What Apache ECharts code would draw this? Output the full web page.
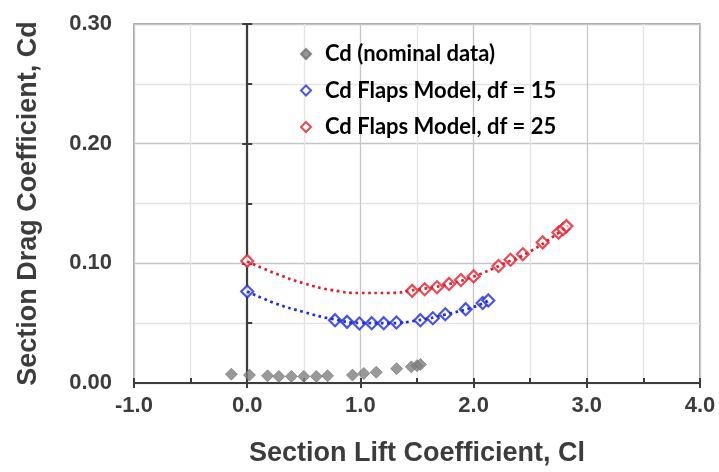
<!DOCTYPE html>
<html><head><meta charset="utf-8">
<script src="https://cdn.jsdelivr.net/npm/echarts@6/dist/echarts.min.js"></script>
<style>html,body{margin:0;padding:0;background:#fff}#c{width:719px;height:472px}</style>
</head><body><div id="c"></div>
<script>
// Nominal data (Cl, Cd)
const nominalCl = [-0.14, 0.02, 0.18, 0.28, 0.39, 0.50, 0.61, 0.71, 0.93, 1.03, 1.14, 1.32, 1.45, 1.50, 1.53];
const nominalCd = [0.0074, 0.0066, 0.0060, 0.0055, 0.0055, 0.0055, 0.0055, 0.0060, 0.0066, 0.0080, 0.0090, 0.0120, 0.0135, 0.0145, 0.0155];
// Flaps model df = 15
const flaps15Cl = [0.0, 0.776, 0.882, 0.991, 1.10, 1.206, 1.318, 1.53, 1.64, 1.75, 1.93, 2.08, 2.13];
const flaps15Cd = [0.0765, 0.0525, 0.0511, 0.0497, 0.0500, 0.0500, 0.0505, 0.0525, 0.0541, 0.0574, 0.0617, 0.0668, 0.0690];
// Flaps model df = 25
const flaps25Cl = [0.0, 1.457, 1.568, 1.677, 1.783, 1.888, 2.0, 2.22, 2.326, 2.435, 2.61, 2.75, 2.79, 2.82];
const flaps25Cd = [0.1019, 0.0770, 0.0784, 0.0800, 0.0828, 0.0861, 0.0891, 0.0978, 0.1030, 0.1076, 0.1175, 0.1257, 0.1285, 0.1311];
// Trendlines
const trend15Cl = [0.0, 0.25, 0.5, 0.75, 1.0, 1.25, 1.5, 1.75, 2.0, 2.14];
const trend15Cd = [0.0765, 0.0665, 0.0593, 0.0535, 0.0502, 0.0500, 0.0522, 0.0572, 0.0635, 0.0692];
const trend25Cl = [0.0, 0.25, 0.5, 0.75, 1.0, 1.25, 1.5, 1.75, 2.0, 2.25, 2.5, 2.75, 2.83];
const trend25Cd = [0.1015, 0.0915, 0.0833, 0.0776, 0.0752, 0.0752, 0.0780, 0.0820, 0.0890, 0.0990, 0.1100, 0.1255, 0.1315];
// Axis ticks
const xTicks = {min: -1, max: 4, step: 1, minor: 0.5};
const yTicks = {min: 0, max: 0.3, step: 0.1, minor: 0.05};

const zip = (a, b) => a.map((v, i) => [v, b[i]]);
const BLUE = '#1f2bdc', RED = '#e0212c', GRAY = '#7f7f7f', AX = '#3c3c3c';
const tickFont = {fontFamily: 'Liberation Sans, Arial, sans-serif', fontWeight: 'bold', fontSize: 22, color: AX};

const chart = echarts.init(document.getElementById('c'), null, {renderer: 'canvas'});
chart.setOption({
  animation: false,
  grid: {left: 134, right: 19, top: 24, bottom: 82, show: true, borderColor: '#8c8c8c', borderWidth: 1.5, backgroundColor: 'transparent'},
  legend: {
    orient: 'vertical', left: 295, top: 37, itemWidth: 10, itemHeight: 10, itemGap: 12.5,
    data: ['Cd (nominal data)', 'Cd Flaps Model, df = 15', 'Cd Flaps Model, df = 25'],
    textStyle: {fontFamily: 'Lato, Open Sans, sans-serif', fontWeight: 'bold', fontSize: 22, color: '#000', lineHeight: 24, padding: [0, 0, 0, 9]}
  },
  xAxis: [{
    type: 'value', min: xTicks.min, max: xTicks.max, interval: xTicks.step,
    axisLine: {show: true, onZero: true, lineStyle: {color: AX, width: 2.2}},
    axisTick: {show: true, inside: false, length: 5, lineStyle: {color: AX, width: 2}},
    axisLabel: Object.assign({margin: 12, formatter: v => v.toFixed(1)}, tickFont),
    splitLine: {show: true, lineStyle: {color: '#c6c6c6', width: 1.3}},
    minorTick: {show: false, splitNumber: 2},
    minorSplitLine: {show: true, lineStyle: {color: '#e4e4e4', width: 1.3}},
    name: 'Section Lift Coefficient, Cl', nameLocation: 'middle', nameGap: 57,
    nameTextStyle: {fontFamily: 'Liberation Sans, Arial, sans-serif', fontWeight: 'bold', fontSize: 27, color: AX}
  }, {
    type: 'value', min: xTicks.min, max: xTicks.max, interval: xTicks.minor, position: 'bottom',
    axisLine: {show: false, onZero: false},
    axisTick: {show: true, inside: true, length: 5, lineStyle: {color: AX, width: 2}},
    axisLabel: {show: false}, splitLine: {show: false}
  }],
  yAxis: [{
    type: 'value', min: yTicks.min, max: yTicks.max, interval: yTicks.step,
    axisLine: {show: false, onZero: false},
    axisTick: {show: false},
    axisLabel: Object.assign({margin: 22, formatter: v => v.toFixed(2)}, tickFont),
    splitLine: {show: true, lineStyle: {color: '#c6c6c6', width: 1.3}},
    minorTick: {show: false, splitNumber: 2},
    minorSplitLine: {show: true, lineStyle: {color: '#e4e4e4', width: 1.3}},
    name: 'Section Drag Coefficient, Cd', nameLocation: 'middle', nameGap: 92,
    nameTextStyle: {fontFamily: 'Liberation Sans, Arial, sans-serif', fontWeight: 'bold', fontSize: 27, color: AX}
  }, {
    type: 'value', min: yTicks.min, max: yTicks.max, interval: yTicks.step, position: 'left',
    axisLine: {show: true, onZero: true, onZeroAxisIndex: 0, lineStyle: {color: AX, width: 2.2}},
    axisTick: {show: true, inside: false, length: 5, lineStyle: {color: AX, width: 2}},
    axisLabel: {show: false}, splitLine: {show: false}
  }, {
    type: 'value', min: yTicks.min, max: yTicks.max, interval: yTicks.minor, position: 'left',
    axisLine: {show: false, onZero: true, onZeroAxisIndex: 0},
    axisTick: {show: true, inside: true, length: 5, lineStyle: {color: AX, width: 2}},
    axisLabel: {show: false}, splitLine: {show: false}
  }],
  series: [
    {name: 'trend15', type: 'line', xAxisIndex: 0, yAxisIndex: 0, data: zip(trend15Cl, trend15Cd), smooth: 0.5, showSymbol: false, silent: true,
     lineStyle: {color: BLUE, width: 2.7, type: [2.7, 3.6], cap: 'butt'}},
    {name: 'trend25', type: 'line', xAxisIndex: 0, yAxisIndex: 0, data: zip(trend25Cl, trend25Cd), smooth: 0.5, showSymbol: false, silent: true,
     lineStyle: {color: RED, width: 2.7, type: [2.7, 3.6], cap: 'butt'}},
    {name: 'Cd (nominal data)', type: 'scatter', xAxisIndex: 0, yAxisIndex: 0, data: zip(nominalCl, nominalCd), symbol: 'diamond', symbolSize: 12,
     itemStyle: {color: GRAY, borderColor: '#6e6e6e', borderWidth: 0.8}},
    {name: 'Cd Flaps Model, df = 15', type: 'scatter', xAxisIndex: 0, yAxisIndex: 0, data: zip(flaps15Cl, flaps15Cd), symbol: 'diamond', symbolSize: 12,
     itemStyle: {color: '#fff', borderColor: BLUE, borderWidth: 2.2}},
    {name: 'Cd Flaps Model, df = 25', type: 'scatter', xAxisIndex: 0, yAxisIndex: 0, data: zip(flaps25Cl, flaps25Cd), symbol: 'diamond', symbolSize: 12,
     itemStyle: {color: '#fff', borderColor: RED, borderWidth: 2.2}}
  ]
});
</script></body></html>
